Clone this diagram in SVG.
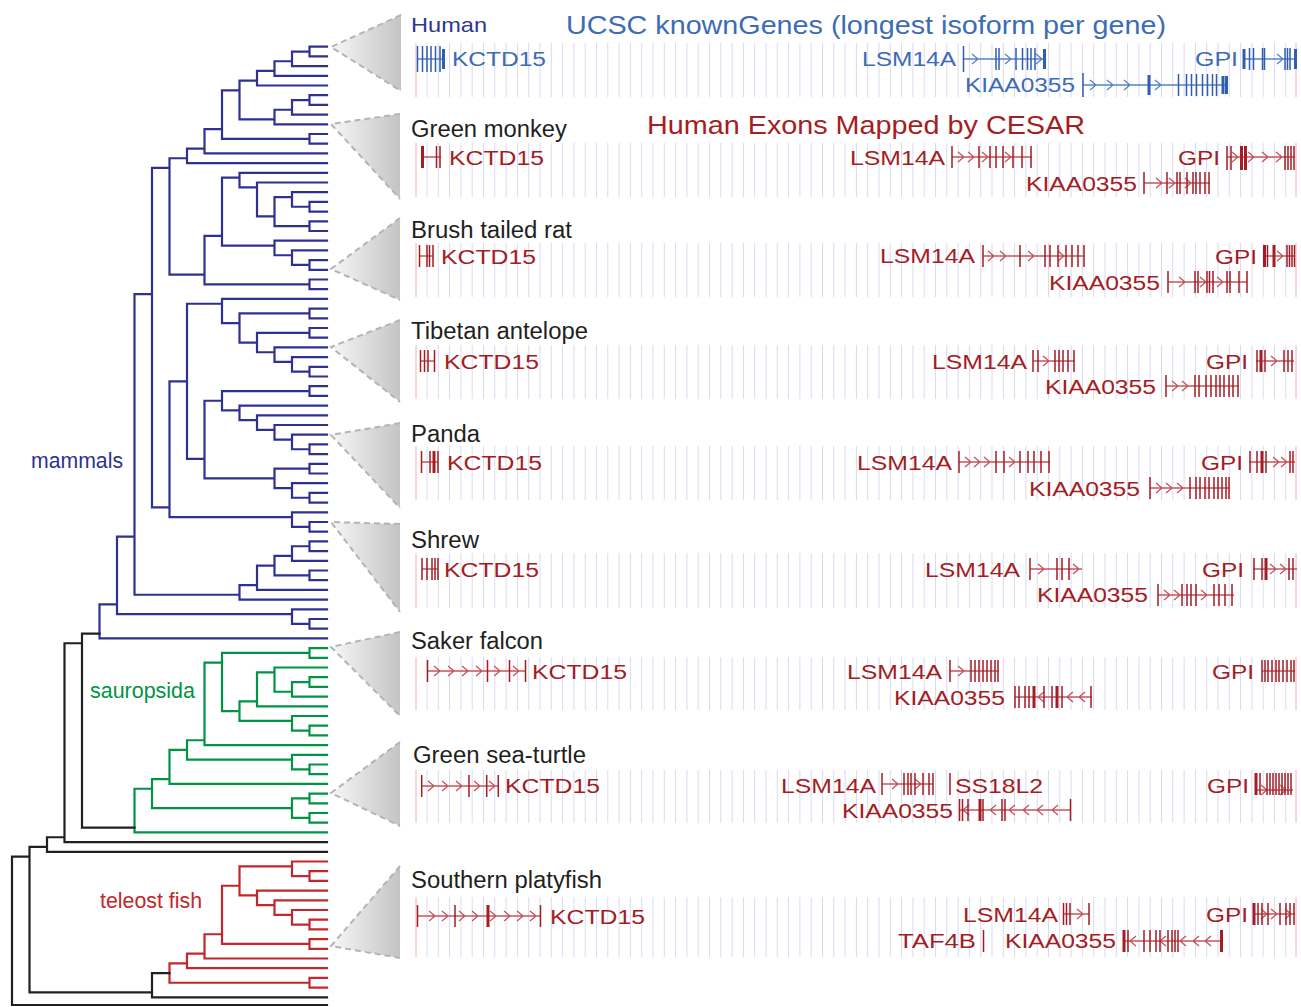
<svg xmlns="http://www.w3.org/2000/svg" width="1301" height="1007" viewBox="0 0 1301 1007">
<defs>
<style>
text{font-family:"Liberation Sans",Arial,Helvetica,sans-serif}
.sp{font-size:23px;fill:#231F20}
.gb{font-size:20px;fill:#3E6BB5}
.gr{font-size:20px;fill:#A31D24}
.tree{fill:none;stroke-width:2.2;stroke-linecap:square}
.lnR{fill:none;stroke:#C5555B;stroke-width:1.3}
.exR{fill:none;stroke:#A31D24;stroke-width:1.5}
.exRb{fill:none;stroke:#A31D24;stroke-width:3}
.lnB{fill:none;stroke:#5A82C9;stroke-width:1.3}
.exB{fill:none;stroke:#2F5EAE;stroke-width:1.5}
.exBb{fill:none;stroke:#2F5EAE;stroke-width:3}
.tri{fill:url(#tg)}
.dash{fill:none;stroke:#B4B4B4;stroke-width:2;stroke-dasharray:6 4}
.bord{fill:none;stroke:#F0B0B0;stroke-width:1}
</style>
<linearGradient id="tg" x1="0" y1="0" x2="1" y2="0">
<stop offset="0" stop-color="#F7F7F7"/><stop offset="1" stop-color="#C4C4C4"/>
</linearGradient>
<pattern id="grid" patternUnits="userSpaceOnUse" x="426.5" y="0" width="11.3" height="10">
<rect x="0" y="0" width="1" height="10" fill="#D9D9F0"/>
</pattern>
</defs>
<rect width="1301" height="1007" fill="#FFFFFF"/>

<g id="tree">
<path class="tree" stroke="#2E3192" d="M309.5 46.7H327M309.5 56.4H327M292 66.1H327M274.5 75.8H327M257 85.5H327M309.5 95.2H327M309.5 104.9H327M292 114.6H327M274.5 124.3H327M309.5 134H327M309.5 143.7H327M204.5 153.4H327M187 163.1H327M239.5 172.8H327M257 182.5H327M292 192.2H327M309.5 201.9H327M309.5 211.6H327M309.5 221.3H327M309.5 231H327M274.5 240.7H327M292 250.4H327M309.5 260.1H327M309.5 269.8H327M309.5 279.5H327M309.5 289.2H327M222 298.9H327M309.5 308.6H327M309.5 318.3H327M309.5 328H327M309.5 337.7H327M274.5 347.4H327M292 357.1H327M309.5 366.8H327M309.5 376.5H327M309.5 386.2H327M309.5 395.9H327M239.5 405.6H327M257 415.3H327M274.5 425H327M292 434.7H327M309.5 444.4H327M309.5 454.1H327M309.5 463.8H327M309.5 473.5H327M292 483.2H327M309.5 492.9H327M309.5 502.6H327M292 512.3H327M309.5 522H327M309.5 531.7H327M309.5 541.4H327M309.5 551.1H327M292 560.8H327M309.5 570.5H327M309.5 580.2H327M257 589.9H327M239.5 599.6H327M292 609.3H327M309.5 619H327M309.5 628.7H327M99.5 638.4H327
M292 51.55H309.5M274.5 61.25H292M257 70.95H274.5M239.5 80.65H257M292 100.05H309.5M274.5 109.75H292M239.5 119.45H274.5M222 90.35H239.5M222 138.85H309.5M204.5 129.15H222M187 148.55H204.5M169.5 158.25H187M292 206.75H309.5M274.5 197.05H292M274.5 226.15H309.5M257 216.45H274.5M239.5 187.35H257M222 177.65H239.5M292 264.95H309.5M274.5 255.25H292M222 245.55H274.5M204.5 235.85H222M204.5 284.35H309.5M169.5 274.65H204.5M152 167.95H169.5M292 371.65H309.5M274.5 361.95H292M257 352.25H274.5M257 332.85H309.5M239.5 342.55H257M239.5 313.45H309.5M222 323.15H239.5M187 303.75H222M222 391.05H309.5M292 449.25H309.5M274.5 439.55H292M257 429.85H274.5M239.5 420.15H257M222 410.45H239.5M204.5 400.75H222M274.5 468.65H309.5M292 497.75H309.5M274.5 488.05H292M204.5 478.35H274.5M187 458.95H204.5M169.5 381.35H187M292 526.85H309.5M169.5 517.15H292M152 507.45H169.5M134.5 294.05H152M292 546.25H309.5M274.5 555.95H292M274.5 575.35H309.5M257 565.65H274.5M239.5 585.05H257M134.5 594.75H239.5M117 536.55H134.5M292 623.85H309.5M117 614.15H292M99.5 604.45H117
M309.5 46.7V56.4M292 51.55V66.1M274.5 61.25V75.8M257 70.95V85.5M309.5 95.2V104.9M292 100.05V114.6M274.5 109.75V124.3M239.5 80.65V119.45M309.5 134V143.7M222 90.35V138.85M204.5 129.15V153.4M187 148.55V163.1M309.5 201.9V211.6M292 192.2V206.75M309.5 221.3V231M274.5 197.05V226.15M257 182.5V216.45M239.5 172.8V187.35M309.5 260.1V269.8M292 250.4V264.95M274.5 240.7V255.25M222 177.65V245.55M309.5 279.5V289.2M204.5 235.85V284.35M169.5 158.25V274.65M309.5 366.8V376.5M292 357.1V371.65M274.5 347.4V361.95M309.5 328V337.7M257 332.85V352.25M309.5 308.6V318.3M239.5 313.45V342.55M222 298.9V323.15M309.5 386.2V395.9M309.5 444.4V454.1M292 434.7V449.25M274.5 425V439.55M257 415.3V429.85M239.5 405.6V420.15M222 391.05V410.45M309.5 463.8V473.5M309.5 492.9V502.6M292 483.2V497.75M274.5 468.65V488.05M204.5 400.75V478.35M187 303.75V458.95M309.5 522V531.7M292 512.3V526.85M169.5 381.35V517.15M152 167.95V507.45M309.5 541.4V551.1M292 546.25V560.8M309.5 570.5V580.2M274.5 555.95V575.35M257 565.65V589.9M239.5 585.05V599.6M134.5 294.05V594.75M309.5 619V628.7M292 609.3V623.85M117 536.55V614.15M99.5 604.45V638.4"/>
<path class="tree" stroke="#009444" d="M309.5 648.1H327M309.5 657.8H327M274.5 667.5H327M309.5 677.2H327M309.5 686.9H327M292 696.6H327M257 706.3H327M292 716H327M309.5 725.7H327M309.5 735.4H327M204.5 745.1H327M292 754.8H327M309.5 764.5H327M309.5 774.2H327M169.5 783.9H327M309.5 793.6H327M309.5 803.3H327M309.5 813H327M309.5 822.7H327M134.5 832.4H327
M222 652.95H309.5M292 682.05H309.5M274.5 691.75H292M257 672.35H274.5M239.5 701.45H257M292 730.55H309.5M239.5 720.85H292M222 711.15H239.5M204.5 662.65H222M187 740.25H204.5M292 769.35H309.5M187 759.65H292M169.5 749.95H187M152 779.05H169.5M292 798.45H309.5M292 817.85H309.5M152 808.15H292M134.5 788.75H152
M309.5 648.1V657.8M309.5 677.2V686.9M292 682.05V696.6M274.5 667.5V691.75M257 672.35V706.3M309.5 725.7V735.4M292 716V730.55M239.5 701.45V720.85M222 652.95V711.15M204.5 662.65V745.1M309.5 764.5V774.2M292 754.8V769.35M187 740.25V759.65M169.5 749.95V783.9M309.5 793.6V803.3M309.5 813V822.7M292 798.45V817.85M152 779.05V808.15M134.5 788.75V832.4"/>
<path class="tree" stroke="#C1272D" d="M292 861.5H327M309.5 871.2H327M309.5 880.9H327M257 890.6H327M274.5 900.3H327M292 910H327M309.5 919.7H327M309.5 929.4H327M309.5 939.1H327M309.5 948.8H327M204.5 958.5H327M187 968.2H327M309.5 977.9H327M309.5 987.6H327
M292 876.05H309.5M239.5 866.35H292M292 924.55H309.5M274.5 914.85H292M257 905.15H274.5M239.5 895.45H257M222 885.75H239.5M222 943.95H309.5M204.5 934.25H222M187 953.65H204.5M169.5 963.35H187M169.5 982.75H309.5
M309.5 871.2V880.9M292 861.5V876.05M309.5 919.7V929.4M292 910V924.55M274.5 900.3V914.85M257 890.6V905.15M239.5 866.35V895.45M309.5 939.1V948.8M222 885.75V943.95M204.5 934.25V958.5M187 953.65V968.2M309.5 977.9V987.6M169.5 963.35V982.75"/>
<path class="tree" stroke="#231F20" d="M82 633.55H99.5M82 827.55H134.5M82 633.55V827.55M64.5 643.25H82M64.5 842.1H327M64.5 643.25V842.1M47 837.25H64.5M47 851.8H327M47 837.25V851.8M29.5 846.95H47M152 973.05H169.5M152 997.3H327M152 973.05V997.3M29.5 992.45H152M29.5 846.95V992.45M12 856.65H29.5M12 1005H327M12 856.65V1005"/>
</g>

<g id="clades">
<text x="31" y="468" font-size="22" fill="#2E3192" textLength="92" lengthAdjust="spacingAndGlyphs">mammals</text>
<text x="90" y="698" font-size="22" fill="#009444" textLength="105" lengthAdjust="spacingAndGlyphs">sauropsida</text>
<text x="100" y="908" font-size="22" fill="#C1272D" textLength="102" lengthAdjust="spacingAndGlyphs">teleost fish</text>
</g>

<g id="titles">
<text x="566" y="34" font-size="26" fill="#3C6DB4" textLength="600" lengthAdjust="spacingAndGlyphs">UCSC knownGenes (longest isoform per gene)</text>
<text x="647" y="134" font-size="26" fill="#A41E22" textLength="438" lengthAdjust="spacingAndGlyphs">Human Exons Mapped by CESAR</text>
</g>

<g id="human">
<polygon class="tri" points="331,47 401,15 401,91"/><polyline class="dash" points="401,15 331,47 401,91"/>
<rect x="420" y="43" width="872" height="54" fill="url(#grid)"/><path class="bord" d="M416 43V97M1296 43V97"/>
<text x="411" y="32" font-size="21" fill="#2B3990" textLength="76" lengthAdjust="spacingAndGlyphs">Human</text>
<text class="gb" x="452" y="66" textLength="94" lengthAdjust="spacingAndGlyphs">KCTD15</text>
<text class="gb" x="862" y="66" textLength="94" lengthAdjust="spacingAndGlyphs">LSM14A</text>
<text class="gb" x="1195" y="66" textLength="43" lengthAdjust="spacingAndGlyphs">GPI</text>
<text class="gb" x="965" y="92" textLength="110" lengthAdjust="spacingAndGlyphs">KIAA0355</text>
<path class="lnB" d="M417 59H444M963 59H1045M972 54l6 5-6 5M1005 54l6 5-6 5M1036 54l6 5-6 5M1243 59H1297M1277 54l6 5-6 5M1083 85H1228M1090 80l6 5-6 5M1107 80l6 5-6 5M1124 80l6 5-6 5M1155 80l6 5-6 5"/>
<path class="exB" d="M417.5 46v26M422.5 46v26M427 46v26M431 46v26M435.5 46v26M440 46v26M963.5 46v26M996 48v22M999 48v22M1016 48v22M1022.5 48v22M1027.5 48v22M1031 48v22M1035 48v22M1249.5 48v22M1253.5 48v22M1262.5 48v22M1264.5 48v22M1285 48v22M1287.5 48v22M1290 48v22M1083 73v24M1178.5 74v22M1186.5 74v22M1191.5 74v22M1196.5 74v22M1202.5 74v22M1207.5 74v22M1212.5 74v22M1216.5 74v22"/>
<path class="exBb" d="M443.5 49v20M1044.5 49v20M1244 49v20M1295.5 49v20M1149 75v20M1223 76v18M1226.5 76v18"/>
</g>

<g id="green-monkey">
<polygon class="tri" points="331,124 400,114 400,199"/><polyline class="dash" points="400,114 331,124 400,199"/>
<rect x="420" y="143" width="872" height="54" fill="url(#grid)"/><path class="bord" d="M416 143V197M1296 143V197"/>
<text class="sp" x="411" y="137" textLength="156" lengthAdjust="spacingAndGlyphs">Green monkey</text>
<text class="gr" x="449" y="165" textLength="95" lengthAdjust="spacingAndGlyphs">KCTD15</text>
<text class="gr" x="850" y="165" textLength="95" lengthAdjust="spacingAndGlyphs">LSM14A</text>
<text class="gr" x="1178" y="165" textLength="42" lengthAdjust="spacingAndGlyphs">GPI</text>
<text class="gr" x="1026" y="191" textLength="111" lengthAdjust="spacingAndGlyphs">KIAA0355</text>
<path class="lnR" d="M421 157H441M952 157H1032M958 152l6 5-6 5M968 152l6 5-6 5M982 152l6 5-6 5M1005 152l6 5-6 5M1227 157H1295M1232 152l6 5-6 5M1248 152l6 5-6 5M1262 152l6 5-6 5M1276 152l6 5-6 5M1144 183H1210M1156 178l6 5-6 5M1169 178l6 5-6 5M1185 178l6 5-6 5"/>
<path class="exR" d="M436.5 146v22M440 146v22M952 146v22M979 146v22M990 146v22M996 146v22M1003 146v22M1013 146v22M1022 146v22M1031 146v22M1227 146v24M1231 146v24M1285 146v24M1288 146v24M1291 146v24M1294 146v24M1144 172v22M1167 172v22M1177 172v22M1180 172v22M1187 172v22M1193 172v22M1196 172v22M1200 172v22M1205 172v22M1209 172v22"/>
<path class="exRb" d="M422.5 146v22M1241.5 146v24M1245.5 146v24"/>
</g>

<g id="brush-tailed-rat">
<polygon class="tri" points="331,269 400,218 400,300"/><polyline class="dash" points="400,218 331,269 400,300"/>
<rect x="420" y="243" width="872" height="54" fill="url(#grid)"/><path class="bord" d="M416 243V297M1296 243V297"/>
<text class="sp" x="411" y="238" textLength="161" lengthAdjust="spacingAndGlyphs">Brush tailed rat</text>
<text class="gr" x="441" y="264" textLength="95" lengthAdjust="spacingAndGlyphs">KCTD15</text>
<text class="gr" x="880" y="263" textLength="95" lengthAdjust="spacingAndGlyphs">LSM14A</text>
<text class="gr" x="1215" y="264" textLength="42" lengthAdjust="spacingAndGlyphs">GPI</text>
<text class="gr" x="1049" y="290" textLength="111" lengthAdjust="spacingAndGlyphs">KIAA0355</text>
<path class="lnR" d="M419 256H433M983 256H1084M988 251l6 5-6 5M1000 251l6 5-6 5M1028 251l6 5-6 5M1058 251l6 5-6 5M1263 256H1295M1277 251l6 5-6 5M1168 282H1247M1179 277l6 5-6 5M1200 277l6 5-6 5M1217 277l6 5-6 5"/>
<path class="exR" d="M419.5 245v22M427 245v22M429.5 245v22M433 245v22M983 245v22M1020 245v22M1045 245v22M1050 245v22M1058 245v22M1066 245v22M1072 245v22M1078 245v22M1084 245v22M1287 245v22M1289.5 245v22M1292 245v22M1294.5 245v22M1267.5 245v22M1168 271v22M1195 271v22M1198 271v22M1207 271v22M1209.5 271v22M1213 271v22M1227 271v22M1230 271v22M1239 271v22M1247 271v22"/>
<path class="exRb" d="M1264.5 245v22M1274 245v22"/>
</g>

<g id="tibetan-antelope">
<polygon class="tri" points="331,347 400,320 400,402"/><polyline class="dash" points="400,320 331,347 400,402"/>
<rect x="420" y="345" width="872" height="54" fill="url(#grid)"/><path class="bord" d="M416 345V399M1296 345V399"/>
<text class="sp" x="411" y="339" textLength="177" lengthAdjust="spacingAndGlyphs">Tibetan antelope</text>
<text class="gr" x="444" y="369" textLength="95" lengthAdjust="spacingAndGlyphs">KCTD15</text>
<text class="gr" x="932" y="369" textLength="95" lengthAdjust="spacingAndGlyphs">LSM14A</text>
<text class="gr" x="1206" y="369" textLength="42" lengthAdjust="spacingAndGlyphs">GPI</text>
<text class="gr" x="1045" y="394" textLength="111" lengthAdjust="spacingAndGlyphs">KIAA0355</text>
<path class="lnR" d="M420 361H435M1033 361H1075M1043 356l6 5-6 5M1256 361H1294M1271 356l6 5-6 5M1166 386H1239M1172 381l6 5-6 5M1182 381l6 5-6 5"/>
<path class="exR" d="M420.5 350v22M424.5 350v22M428 350v22M434.5 350v22M1033 350v22M1038 350v22M1055 350v22M1059 350v22M1063 350v22M1068 350v22M1074 350v22M1257 350v22M1265 350v22M1284 350v22M1288 350v22M1292 350v22M1166 375v22M1195 375v22M1199 375v22M1206 375v22M1211 375v22M1216 375v22M1220 375v22M1224 375v22M1229 375v22M1233 375v22M1238 375v22"/>
<path class="exRb" d="M1261 350v22"/>
</g>

<g id="panda">
<polygon class="tri" points="331,435 400,423 400,508"/><polyline class="dash" points="400,423 331,435 400,508"/>
<rect x="420" y="446" width="872" height="54" fill="url(#grid)"/><path class="bord" d="M416 446V500M1296 446V500"/>
<text class="sp" x="411" y="442" textLength="69" lengthAdjust="spacingAndGlyphs">Panda</text>
<text class="gr" x="447" y="470" textLength="95" lengthAdjust="spacingAndGlyphs">KCTD15</text>
<text class="gr" x="857" y="470" textLength="95" lengthAdjust="spacingAndGlyphs">LSM14A</text>
<text class="gr" x="1201" y="470" textLength="42" lengthAdjust="spacingAndGlyphs">GPI</text>
<text class="gr" x="1029" y="496" textLength="111" lengthAdjust="spacingAndGlyphs">KIAA0355</text>
<path class="lnR" d="M421 462H438M959 462H1050M965 457l6 5-6 5M974 457l6 5-6 5M984 457l6 5-6 5M1009 457l6 5-6 5M1249 462H1295M1273 457l6 5-6 5M1281 457l6 5-6 5M1150 488H1230M1156 483l6 5-6 5M1166 483l6 5-6 5M1177 483l6 5-6 5"/>
<path class="exR" d="M421.5 451v22M430 451v22M438 451v22M959 451v22M996 451v22M1004 451v22M1020 451v22M1028 451v22M1034 451v22M1041 451v22M1049 451v22M1250 451v22M1257 451v22M1266 451v22M1290 451v22M1293 451v22M1150 477v22M1190 477v22M1196 477v22M1200 477v22M1205 477v22M1209 477v22M1214 477v22M1218 477v22M1222 477v22M1226 477v22M1229 477v22"/>
<path class="exRb" d="M434 451v22M1262 451v22"/>
</g>

<g id="shrew">
<polygon class="tri" points="331,522 400,524 400,612"/><polyline class="dash" points="400,524 331,522 400,612"/>
<rect x="420" y="553" width="872" height="55" fill="url(#grid)"/><path class="bord" d="M416 553V608M1296 553V608"/>
<text class="sp" x="411" y="548" textLength="68" lengthAdjust="spacingAndGlyphs">Shrew</text>
<text class="gr" x="444" y="577" textLength="95" lengthAdjust="spacingAndGlyphs">KCTD15</text>
<text class="gr" x="925" y="577" textLength="95" lengthAdjust="spacingAndGlyphs">LSM14A</text>
<text class="gr" x="1202" y="577" textLength="42" lengthAdjust="spacingAndGlyphs">GPI</text>
<text class="gr" x="1037" y="602" textLength="111" lengthAdjust="spacingAndGlyphs">KIAA0355</text>
<path class="lnR" d="M422 569H438M1030 569H1082M1038 564l6 5-6 5M1073 564l6 5-6 5M1253 569H1297M1270 564l6 5-6 5M1280 564l6 5-6 5M1158 595H1234M1164 590l6 5-6 5M1174 590l6 5-6 5M1201 590l6 5-6 5"/>
<path class="exR" d="M422 558v22M427 558v22M432 558v22M435 558v22M438 558v22M1030 558v22M1057 558v22M1062 558v22M1069 558v22M1254 558v22M1262 558v22M1289 558v22M1293 558v22M1158 584v22M1182 584v22M1187 584v22M1191 584v22M1196 584v22M1214 584v22M1219 584v22M1225 584v22M1232 584v22"/>
<path class="exRb" d="M1266 558v22"/>
</g>

<g id="saker-falcon">
<polygon class="tri" points="331,647 400,632 400,716"/><polyline class="dash" points="400,632 331,647 400,716"/>
<rect x="420" y="657" width="872" height="53" fill="url(#grid)"/><path class="bord" d="M416 657V710M1296 657V710"/>
<text class="sp" x="411" y="649" textLength="132" lengthAdjust="spacingAndGlyphs">Saker falcon</text>
<text class="gr" x="532" y="679" textLength="95" lengthAdjust="spacingAndGlyphs">KCTD15</text>
<text class="gr" x="847" y="679" textLength="95" lengthAdjust="spacingAndGlyphs">LSM14A</text>
<text class="gr" x="1212" y="679" textLength="42" lengthAdjust="spacingAndGlyphs">GPI</text>
<text class="gr" x="894" y="705" textLength="111" lengthAdjust="spacingAndGlyphs">KIAA0355</text>
<path class="lnR" d="M427 671H526M434 666l6 5-6 5M448 666l6 5-6 5M462 666l6 5-6 5M476 666l6 5-6 5M494 666l6 5-6 5M513 666l6 5-6 5M950 671H999M958 666l6 5-6 5M1262 671H1295M1015 697H1092M1044 692l-6 5 6 5M1073 692l-6 5 6 5M1085 692l-6 5 6 5"/>
<path class="exR" d="M427.5 660v22M487.5 660v22M509.5 660v22M525.5 660v22M950 660v22M971 660v22M975 660v22M979 660v22M983 660v22M987 660v22M991 660v22M995 660v22M998 660v22M1262 660v22M1265 660v22M1268 660v22M1272 660v22M1276 660v22M1279 660v22M1283 660v22M1287 660v22M1291 660v22M1294 660v22M1015 686v22M1019 686v22M1025 686v22M1029 686v22M1044 686v22M1052 686v22M1062 686v22M1091 686v22"/>
<path class="exRb" d="M1034 686v22M1057 686v22"/>
</g>

<g id="green-sea-turtle">
<polygon class="tri" points="331,793 400,742 400,826"/><polyline class="dash" points="400,742 331,793 400,826"/>
<rect x="420" y="770" width="872" height="53" fill="url(#grid)"/><path class="bord" d="M416 770V823M1296 770V823"/>
<text class="sp" x="413" y="763" textLength="173" lengthAdjust="spacingAndGlyphs">Green sea-turtle</text>
<text class="gr" x="505" y="793" textLength="95" lengthAdjust="spacingAndGlyphs">KCTD15</text>
<text class="gr" x="781" y="793" textLength="95" lengthAdjust="spacingAndGlyphs">LSM14A</text>
<text class="gr" x="955" y="793" textLength="88" lengthAdjust="spacingAndGlyphs">SS18L2</text>
<text class="gr" x="1207" y="793" textLength="42" lengthAdjust="spacingAndGlyphs">GPI</text>
<text class="gr" x="842" y="818" textLength="111" lengthAdjust="spacingAndGlyphs">KIAA0355</text>
<path class="lnR" d="M421.5 786H498.5M428 781l6 5-6 5M442 781l6 5-6 5M456 781l6 5-6 5M474 781l6 5-6 5M489 781l6 5-6 5M882 784H933M892 779l6 5-6 5M915 779l6 5-6 5M1255 790H1293M1261 785l6 5-6 5M1280 785l6 5-6 5M959 810H1071M969 805l-6 5 6 5M996 805l-6 5 6 5M1015 805l-6 5 6 5M1029 805l-6 5 6 5M1043 805l-6 5 6 5M1058 805l-6 5 6 5"/>
<path class="exR" d="M421.7 775v22M469 775v22M486.7 775v22M498.3 775v22M882 773v22M904 773v22M908 773v22M911 773v22M915 773v22M923 773v22M929 773v22M933 773v22M950 773v22M1260 773v22M1267 773v22M1270 773v22M1273 773v22M1276 773v22M1279 773v22M1282 773v22M1285 773v22M1288 773v22M1291 773v22M959.5 799v22M962.5 799v22M968 799v22M983 799v22M1002 799v22M1005 799v22M1070.5 799v22"/>
<path class="exRb" d="M1256 773v22M980 799v22"/>
</g>

<g id="southern-platyfish">
<polygon class="tri" points="331,946 400,866 400,958"/><polyline class="dash" points="400,866 331,946 400,958"/>
<rect x="420" y="897" width="872" height="60" fill="url(#grid)"/><path class="bord" d="M416 897V957M1296 897V957"/>
<text class="sp" x="411" y="888" textLength="191" lengthAdjust="spacingAndGlyphs">Southern platyfish</text>
<text class="gr" x="550" y="924" textLength="95" lengthAdjust="spacingAndGlyphs">KCTD15</text>
<text class="gr" x="963" y="922" textLength="95" lengthAdjust="spacingAndGlyphs">LSM14A</text>
<text class="gr" x="1206" y="922" textLength="42" lengthAdjust="spacingAndGlyphs">GPI</text>
<text class="gr" x="898" y="948" textLength="78" lengthAdjust="spacingAndGlyphs">TAF4B</text>
<text class="gr" x="1005" y="948" textLength="111" lengthAdjust="spacingAndGlyphs">KIAA0355</text>
<path class="lnR" d="M417.5 916H540.5M429 911l6 5-6 5M442 911l6 5-6 5M459 911l6 5-6 5M472 911l6 5-6 5M490 911l6 5-6 5M504 911l6 5-6 5M517 911l6 5-6 5M530 911l6 5-6 5M1063 914H1089M1077 909l6 5-6 5M1253 914H1295M1261 909l6 5-6 5M1271 909l6 5-6 5M1285 909l6 5-6 5M1123 941H1222M1136 936l-6 5 6 5M1166 936l-6 5 6 5M1186 936l-6 5 6 5M1199 936l-6 5 6 5M1211 936l-6 5 6 5"/>
<path class="exR" d="M417.5 905v22M455 905v22M540.5 905v22M1063.5 903v22M1066.5 903v22M1070 903v22M1089 903v22M1258 903v22M1262 903v22M1268 903v22M1280 903v22M1286 903v22M1290 903v22M1294 903v22M983.5 930v22M1128 930v22M1150 930v22M1156 930v22M1160 930v22M1168 930v22M1172 930v22M1175 930v22M1178 930v22"/>
<path class="exRb" d="M488 905v22M1254 903v22M1124 930v22M1221.5 930v22"/>
<path class="exR" stroke-width="5" d="M1144 930v22"/>
</g>
</svg>
